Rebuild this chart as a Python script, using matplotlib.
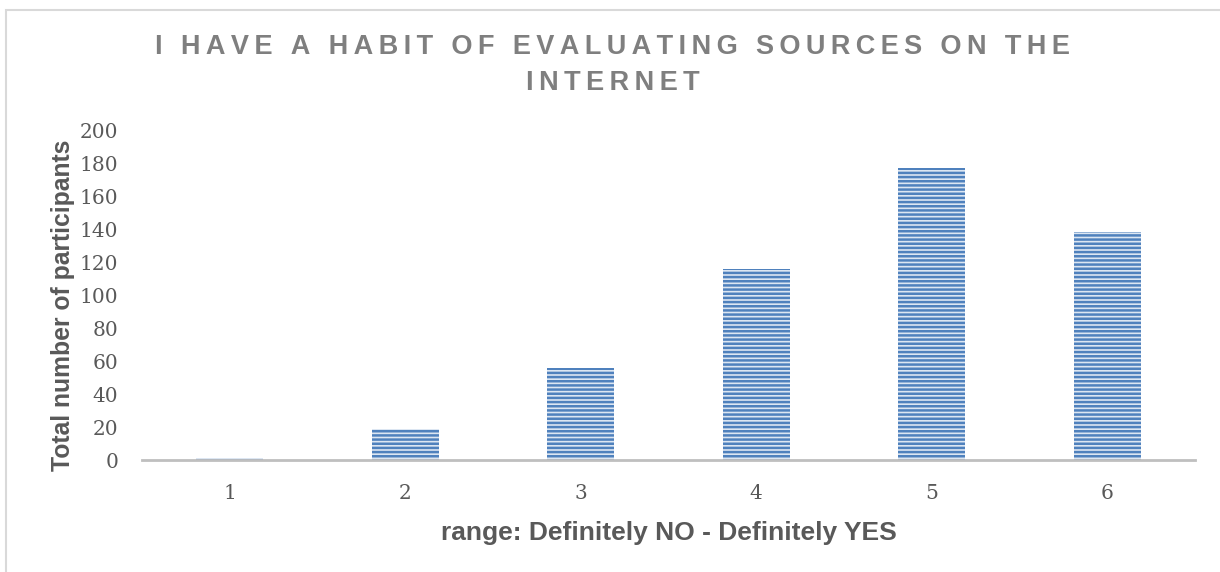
import matplotlib.pyplot as plt
from matplotlib.patches import Rectangle

categories = ['1', '2', '3', '4', '5', '6']
participants = [1, 19, 56, 116, 177, 138]
y_ticks = [0, 20, 40, 60, 80, 100, 120, 140, 160, 180, 200]

title = "I HAVE A HABIT OF EVALUATING SOURCES ON THE\nINTERNET"
x_label = "range: Definitely NO - Definitely YES"
y_label = "Total number of participants"

plt.rcParams['hatch.linewidth'] = 1.8

fig = plt.figure(figsize=(12.2, 5.72), dpi=100)
ax = fig.add_axes([0.1164, 0.1958, 0.8631, 0.5769])

# light grey frame around the chart area
fig.patches.append(Rectangle((6 / 1220, -0.05), 1.1, 1 - 10 / 572 + 0.05,
                             transform=fig.transFigure, fill=False,
                             edgecolor='#D9D9D9', linewidth=1.5))

x = range(1, len(categories) + 1)
ax.bar(x, participants, width=0.38, color='#DCE6F2', edgecolor='#4F81BD',
       hatch='----', linewidth=0, zorder=2)

ax.set_xlim(0.5, 6.5)
ax.set_ylim(0, 200)
ax.set_xticks(list(x))
ax.set_xticklabels(categories)
ax.set_yticks(y_ticks)
for lab in ax.get_xticklabels() + ax.get_yticklabels():
    lab.set_fontfamily('DejaVu Serif')
    lab.set_fontsize(14.5)
    lab.set_color('#595959')
ax.tick_params(axis='both', length=0)
ax.tick_params(axis='y', pad=17)
ax.tick_params(axis='x', pad=17)

for s in ['top', 'right', 'left']:
    ax.spines[s].set_visible(False)
ax.spines['bottom'].set_color('#BFBFBF')
ax.spines['bottom'].set_linewidth(2)
ax.spines['bottom'].set_zorder(3)

ax.set_xlabel(x_label, fontfamily='Liberation Sans', fontweight='bold',
              fontsize=19, color='#595959', labelpad=13)
ax.set_ylabel(y_label, fontfamily='Liberation Sans', fontweight='bold',
              fontsize=17.8, color='#595959')
ax.yaxis.set_label_coords(-0.064, 0.47)

spaced = '\n'.join('\u2009'.join(line) for line in title.split('\n'))
fig.text(0.502, 0.941, spaced, ha='center', va='top', fontfamily='Liberation Sans',
         fontweight='bold', fontsize=19.5, color='#7F7F7F', linespacing=1.5)

fig.savefig('out.png', dpi=100)
